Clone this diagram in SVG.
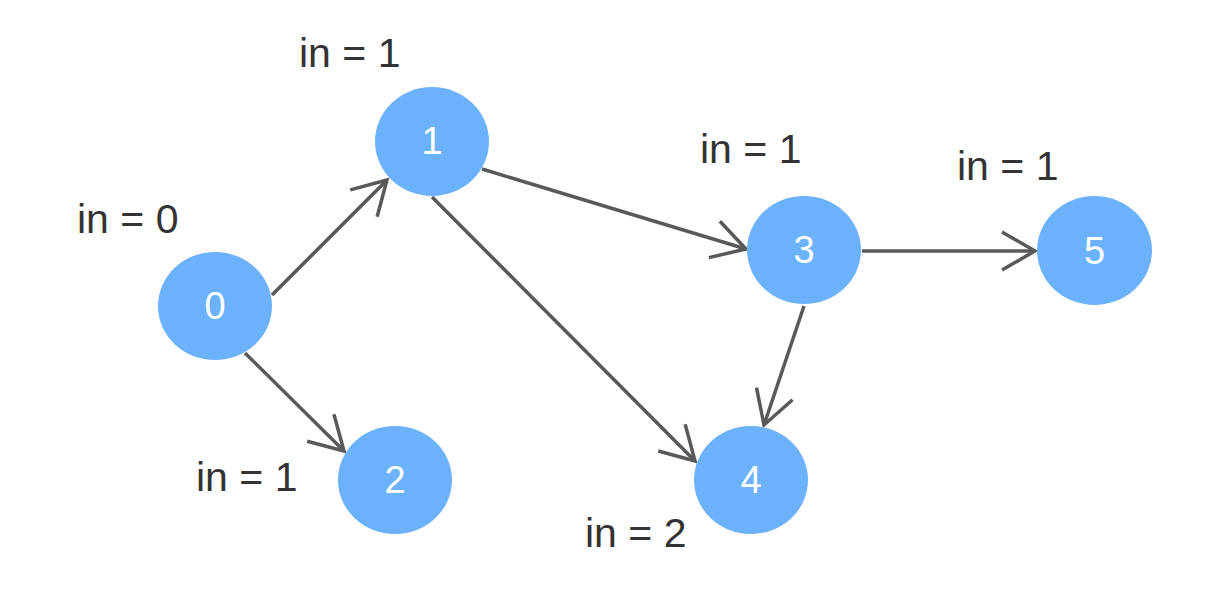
<svg xmlns="http://www.w3.org/2000/svg" width="1221" height="591" viewBox="0 0 1221 591">
<style>
.node{fill:#6cb1fc;}
.nl{fill:#ffffff;font-family:"Liberation Sans",Arial,sans-serif;font-size:38px;text-anchor:middle;}
.lbl{fill:#333333;font-family:"Liberation Sans",Arial,sans-serif;font-size:41px;}
.edge{stroke:#595959;stroke-width:3.5;fill:none;marker-end:url(#arr);}
</style>
<defs>
<marker id="arr" markerUnits="userSpaceOnUse" markerWidth="80" markerHeight="80" viewBox="-40 -40 80 80" refX="0" refY="0" orient="auto" overflow="visible">
<path d="M -33 -19 L 0 0 L -33 19" fill="none" stroke="#595959" stroke-width="3.5"/>
</marker>
</defs>
<rect width="1221" height="591" fill="#ffffff"/>
<g id="connectors">
<line class="edge" x1="272" y1="295" x2="387" y2="180"/>
<line class="edge" x1="245" y1="353" x2="344" y2="451"/>
<line class="edge" x1="482" y1="169" x2="746" y2="249"/>
<line class="edge" x1="432" y1="197" x2="695" y2="461"/>
<line class="edge" x1="804" y1="306" x2="764" y2="425"/>
<line class="edge" x1="862" y1="251" x2="1035" y2="251"/>
</g>
<g id="node0"><ellipse class="node" cx="215" cy="306" rx="57" ry="54"/><text class="nl" x="215" y="319">0</text></g>
<g id="node1"><ellipse class="node" cx="432" cy="141.5" rx="57" ry="54.5"/><text class="nl" x="432" y="154">1</text></g>
<g id="node2"><ellipse class="node" cx="395" cy="480" rx="57" ry="54"/><text class="nl" x="395" y="493">2</text></g>
<g id="node3"><ellipse class="node" cx="804" cy="250" rx="57" ry="54"/><text class="nl" x="804" y="263">3</text></g>
<g id="node4"><ellipse class="node" cx="751" cy="480" rx="57" ry="54"/><text class="nl" x="751" y="493">4</text></g>
<g id="node5"><ellipse class="node" cx="1094.5" cy="250.5" rx="57.5" ry="54.5"/><text class="nl" x="1094.5" y="264">5</text></g>
<g id="labels">
<text class="lbl" x="77" y="233">in = 0</text>
<text class="lbl" x="299" y="67">in = 1</text>
<text class="lbl" x="700" y="163">in = 1</text>
<text class="lbl" x="957" y="180">in = 1</text>
<text class="lbl" x="196" y="491">in = 1</text>
<text class="lbl" x="585" y="547">in = 2</text>
</g>
</svg>
